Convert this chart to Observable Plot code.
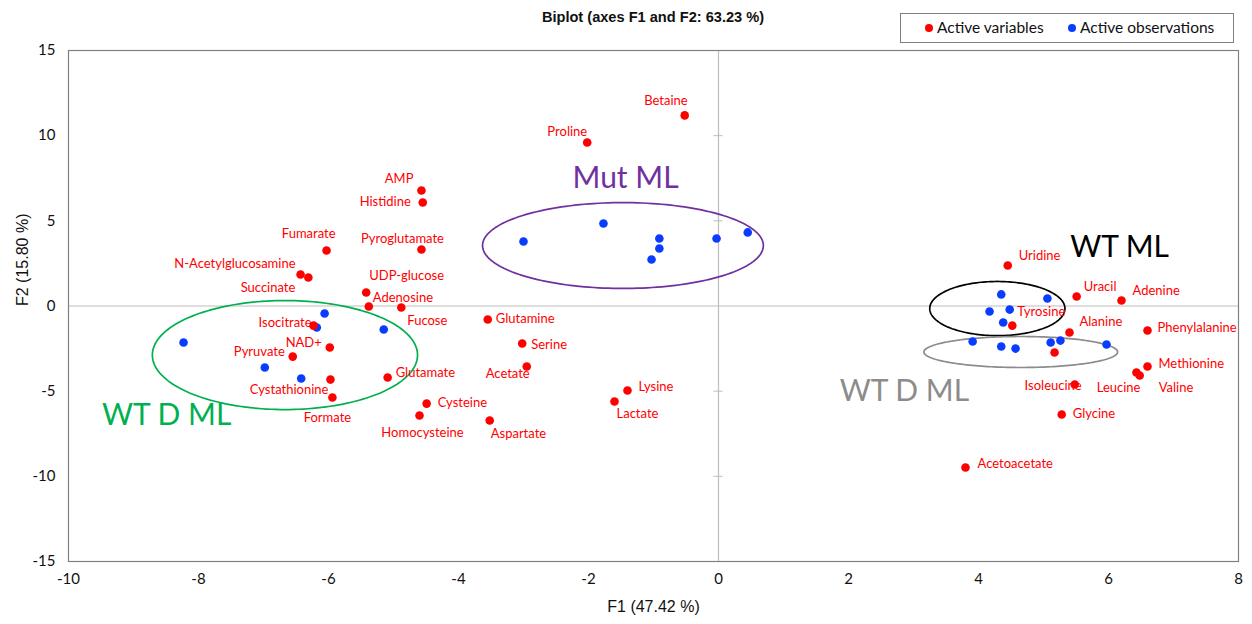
<!DOCTYPE html>
<html>
<head>
<meta charset="utf-8">
<script src="https://cdn.jsdelivr.net/npm/d3@7"></script>
<script src="https://cdn.jsdelivr.net/npm/@observablehq/plot@0.6"></script>
<style>
  html, body { margin: 0; padding: 0; background: #fff; }
  #wrap { position: relative; width: 1252px; height: 624px; font-family: Lato, "Open Sans", sans-serif; }
  #title { position: absolute; left: 0; width: 1306px; top: 9px; text-align: center; font-family: "Liberation Sans", Arial, sans-serif; font-weight: bold; font-size: 14.6px; color: #111; }
  #legend { position: absolute; left: 900px; top: 13px; width: 332px; height: 28px; border: 1px solid #7f7f7f; box-sizing: content-box; font-size: 15.5px; color: #111; }
  #legend .item { position: absolute; top: 4px; white-space: nowrap; }
  #legend .dot { display: inline-block; width: 8px; height: 8px; border-radius: 50%; margin-right: 4px; vertical-align: 1px; }
  #chart { position: absolute; left: 0; top: 0; }
</style>
</head>
<body>
<div id="wrap">
  <div id="chart"></div>
  <div id="title">Biplot (axes F1 and F2: 63.23 %)</div>
  <div id="legend">
    <span class="item" style="left:24px"><span class="dot" style="background:#ff0000"></span>Active variables</span>
    <span class="item" style="left:167px"><span class="dot" style="background:#0a3cff"></span>Active observations</span>
  </div>
</div>
<script>
// ---------- data ----------
const varNames = ["Betaine","Proline","AMP","Histidine","Pyroglutamate","Fumarate","N-Acetylglucosamine","Succinate",
  "UDP-glucose","Adenosine","Fucose","Isocitrate","NAD+","Pyruvate","Cystathionine","Formate","Glutamate","Cysteine",
  "Homocysteine","Glutamine","Serine","Acetate","Aspartate","Lysine","Lactate","Uridine","Uracil","Adenine","Tyrosine",
  "Alanine","Phenylalanine","Methionine","Leucine","Valine","Isoleucine","Glycine","Acetoacetate",""];
const varF1 = [-0.52,-2.02,-4.57,-4.55,-4.57,-6.03,-6.43,-6.31,-5.42,-5.38,-4.88,-6.23,-5.98,-6.55,-5.97,-5.94,-5.09,-4.49,
  -4.60,-3.55,-3.02,-2.95,-3.52,-1.40,-1.60,4.45,5.51,6.20,4.52,5.40,6.60,6.60,6.43,6.48,5.48,5.28,3.80,5.17];
const varF2 = [11.19,9.60,6.78,6.08,3.32,3.26,1.85,1.67,0.79,-0.03,-0.09,-1.15,-2.44,-2.97,-4.32,-5.37,-4.20,-5.73,
  -6.43,-0.79,-2.20,-3.55,-6.72,-4.96,-5.61,2.38,0.56,0.32,-1.15,-1.56,-1.44,-3.55,-3.90,-4.08,-4.61,-6.37,-9.48,-2.73];

const obsF1 = [-8.23,-6.06,-6.18,-5.15,-6.98,-6.42,
  -3.00,-1.77,-0.91,-0.91,-1.03,-0.03,0.45,
  4.35,5.06,4.17,4.48,4.38,3.91,4.35,4.57,5.11,5.26,5.97];
const obsF2 = [-2.14,-0.44,-1.26,-1.38,-3.61,-4.26,
  3.79,4.84,3.96,3.38,2.73,3.96,4.32,
  0.68,0.44,-0.32,-0.21,-0.97,-2.08,-2.38,-2.50,-2.14,-2.03,-2.26];

const groupNames = ["WT D ML","Mut ML","WT ML","WT D ML"];
const groupCx = [-6.67,-1.47,4.29,4.65];
const groupCy = [-2.88,3.55,-0.15,-2.70];
const groupRx = [2.04,2.16,1.04,1.49];
const groupRy = [3.20,2.52,1.59,0.91];
const groupLabelF1 = [-8.49,-1.43,6.17,2.86];
const groupLabelF2 = [-6.43,7.49,3.44,-5.02];

const xTicks = [-10,-8,-6,-4,-2,0,2,4,6,8];
const yTicks = [-15,-10,-5,0,5,10,15];

// ---------- layout / style ----------
const groupColors = ["#00b050","#7030a0","#000000","#8c8c8c"];
const labelPlacement = {
  "Betaine":["end",3,-15], "Proline":["end",0,-11], "AMP":["end",-8,-12], "Histidine":["end",-12,-1],
  "Pyroglutamate":["middle",-19,-11], "Fumarate":["end",9,-17], "N-Acetylglucosamine":["end",-5,-11],
  "Succinate":["end",-13,10], "UDP-glucose":["start",3,-17], "Adenosine":["start",4,-9], "Fucose":["start",6,13],
  "Isocitrate":["end",-2,-3], "NAD+":["end",-8,-5], "Pyruvate":["end",-8,-5], "Cystathionine":["end",-2,10],
  "Formate":["middle",-5,20], "Glutamate":["start",8,-5], "Cysteine":["start",11,-1], "Homocysteine":["middle",3,17],
  "Glutamine":["start",8,-1], "Serine":["start",9,1], "Acetate":["end",3,7], "Aspartate":["start",1,13],
  "Lysine":["start",11,-4], "Lactate":["start",2,12], "Uridine":["start",11,-10], "Uracil":["start",7,-10],
  "Adenine":["start",11,-10], "Tyrosine":["start",5,-14], "Alanine":["start",10,-11], "Phenylalanine":["start",10,-3],
  "Methionine":["start",11,-3], "Leucine":["end",4,15], "Valine":["start",19,12], "Isoleucine":["end",7,1],
  "Glycine":["start",11,-1], "Acetoacetate":["start",12,-4]
};

const variables = varNames.map((n,i) => ({name:n, x:varF1[i], y:varF2[i]}));
const observations = obsF1.map((v,i) => ({x:v, y:obsF2[i]}));
const ellipses = groupNames.map((n,i) => d3.range(0,361,2).map(a => {
  const t = a*Math.PI/180;
  return {x: groupCx[i] + groupRx[i]*Math.cos(t), y: groupCy[i] + groupRy[i]*Math.sin(t)};
}));
const groupLabels = groupNames.map((n,i) => ({name:n, x:groupLabelF1[i], y:groupLabelF2[i]}));

const labelMarks = variables.filter(v => v.name && labelPlacement[v.name]).map(v => {
  const p = labelPlacement[v.name];
  return Plot.text([v], {x:"x", y:"y", text:"name", textAnchor:p[0], dx:p[1], dy:p[2],
    fill:"#ff0000", fontSize:13});
});

const chart = Plot.plot({
  width: 1252, height: 624,
  marginLeft: 68, marginRight: 14, marginTop: 50, marginBottom: 63,
  style: {fontFamily: "Lato, 'Open Sans', sans-serif", fontSize: "15px", background: "transparent", color: "#111"},
  x: {domain: [-10, 8], ticks: xTicks, tickSize: 0, tickPadding: 12, tickFormat: d => String(d), label: null},
  y: {domain: [-15, 15], ticks: yTicks, tickSize: 0, tickPadding: 13, tickFormat: d => String(d), label: null},
  marks: [
    Plot.ruleX([0], {stroke: "#bdbdbd", strokeWidth: 1.2}),
    Plot.ruleY([0], {stroke: "#bdbdbd", strokeWidth: 1.2}),
    Plot.ruleY(yTicks.filter(t => t !== 0 && Math.abs(t) !== 15), {y: d => d, x1: -0.07, x2: 0.07, stroke: "#bdbdbd"}),
    Plot.frame({stroke: "#808080", strokeWidth: 1.2}),
    ...ellipses.map((pts,i) => Plot.line(pts, {x:"x", y:"y", stroke: groupColors[i], strokeWidth: 1.7})),
    Plot.dot(observations, {x:"x", y:"y", r:4.3, fill:"#0a3cff"}),
    Plot.dot(variables, {x:"x", y:"y", r:4.3, fill:"#ff0000"}),
    ...labelMarks,
    ...groupLabels.map((g,i) => Plot.text([g], {x:"x", y:"y", text:"name", fill: groupColors[i], fontSize: 30})),
    Plot.text(["F1 (47.42 %)"], {text: d => d, frameAnchor: "bottom", dy: 50, fontSize: 16,
      fontFamily: "'Liberation Sans', Arial, sans-serif", fill: "#111"}),
    Plot.text(["F2 (15.80 %)"], {text: d => d, frameAnchor: "left", dx: -46, rotate: -90, fontSize: 16,
      fontFamily: "'Liberation Sans', Arial, sans-serif", fill: "#111"})
  ]
});
document.getElementById("chart").appendChild(chart);
</script>
</body>
</html>
